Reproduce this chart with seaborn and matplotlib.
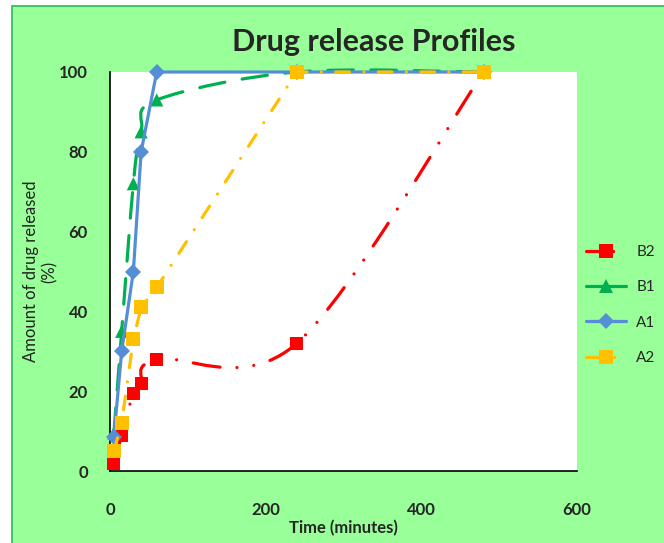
#%% imports
import numpy as np
import matplotlib
matplotlib.use("Agg")
import matplotlib.pyplot as plt
from matplotlib.path import Path
from matplotlib.patches import PathPatch, Rectangle
from matplotlib.lines import Line2D
import seaborn as sns

#%% data
time_min = [5, 15, 30, 40, 60, 240, 480]
b2 = [2, 9, 19.5, 22, 28, 32, 100]
b1 = [9.5, 35, 72, 85, 93, 100, 100]
a1 = [8.5, 30, 50, 80, 100, 100, 100]
a2 = [5, 12, 33, 41, 46, 100, 100]
series_names = ["B2", "B1", "A1", "A2"]
x_ticks = [0, 200, 400, 600]
y_ticks = [0, 20, 40, 60, 80, 100]

#%% style
sns.set_style("white")
plt.rcParams["font.family"] = ["Lato", "DejaVu Sans"]

bg = "#99FF99"
red, green, blue, yellow = "#FF0000", "#00B050", "#558ED5", "#FFC000"
lw = 2.3
red_dash = (0, (8.5, 5.3, 0.01, 5.3, 0.01, 5.3))
green_dash = (0, (8, 5.5))
yellow_dash = (0, (4.3, 4.5, 0.01, 4.5))


def smooth_path(xs, ys):
    # excel style smoothed line: bezier with catmull-rom like control points
    pts = np.column_stack([xs, ys]).astype(float)
    verts = [pts[0]]
    codes = [Path.MOVETO]
    n = len(pts)
    for i in range(n - 1):
        p0 = pts[max(i - 1, 0)]
        p1 = pts[i]
        p2 = pts[i + 1]
        p3 = pts[min(i + 2, n - 1)]
        c1 = p1 + (p2 - p0) / 6
        c2 = p2 - (p3 - p1) / 6
        verts += [c1, c2, p2]
        codes += [Path.CURVE4] * 3
    return Path(verts, codes)


fig = plt.figure(figsize=(6.64, 5.43), dpi=100, facecolor="white")
# green chart area, its border only shows on the left and top
fig.patches.append(Rectangle((12 / 664, -0.2), 1.2, 1 - 6 / 543 + 0.2,
                             transform=fig.transFigure, facecolor=bg,
                             edgecolor="#2EB85C", lw=1.2, zorder=-5))
ax = fig.add_axes([110 / 664, 1 - 471 / 543, 467 / 664, 399 / 543])
ax.set_facecolor("white")

#%% B2 (smoothed, dash dot dot)
ax.add_patch(PathPatch(smooth_path(time_min, b2), fill=False, edgecolor=red,
                       lw=lw, linestyle=red_dash, capstyle="round",
                       clip_on=False, zorder=3))
sns.scatterplot(x=time_min, y=b2, marker="s", s=90, color=red, edgecolor="none",
                ax=ax, clip_on=False, zorder=4)

#%% B1 (smoothed, long dash)
ax.add_patch(PathPatch(smooth_path(time_min, b1), fill=False, edgecolor=green,
                       lw=lw, linestyle=green_dash, capstyle="round",
                       clip_on=False, zorder=5))
sns.scatterplot(x=time_min, y=b1, marker="^", s=90, color=green, edgecolor="none",
                ax=ax, clip_on=False, zorder=6)

#%% A1 (straight, solid)
sns.lineplot(x=time_min, y=a1, color=blue, lw=lw, marker="D", markersize=8,
             markeredgewidth=0, ax=ax, clip_on=False, zorder=7)

#%% A2 (straight, dash dot)
sns.lineplot(x=time_min, y=a2, color=yellow, lw=lw, linestyle=yellow_dash,
             dash_capstyle="round", marker="s", markersize=9.5,
             markeredgewidth=0, ax=ax, clip_on=False, zorder=8)

#%% axes
ax.set_xlim(0, 600)
ax.set_ylim(0, 100)
ax.set_xticks(x_ticks)
ax.set_yticks(y_ticks)
for s in ["top", "right"]:
    ax.spines[s].set_visible(False)
for s in ["left", "bottom"]:
    ax.spines[s].set_color("black")
    ax.spines[s].set_linewidth(1.2)
ax.tick_params(axis="both", direction="out", length=5, width=1.2,
               color="black", labelsize=12)
ax.tick_params(axis="x", pad=17)
ax.tick_params(axis="y", pad=11)
for lab in ax.get_xticklabels() + ax.get_yticklabels():
    lab.set_fontweight("bold")

ax.set_xlabel("Time (minutes)", fontsize=12, fontweight="bold", labelpad=2)
ax.set_ylabel("Amount of drug released\n(%)", fontsize=12, labelpad=1,
              linespacing=1.2, color="#222222")
fig.text(374 / 664, 1 - 42 / 543, "Drug release Profiles", fontsize=22,
         fontweight="bold", ha="center", va="center")

#%% legend
handles = [
    Line2D([], [], color=red, lw=lw, linestyle=red_dash, dash_capstyle="round",
           marker="s", markersize=9.5, markeredgewidth=0),
    Line2D([], [], color=green, lw=lw, linestyle="-", marker="^",
           markersize=9.5, markeredgewidth=0),
    Line2D([], [], color=blue, lw=lw, marker="D", markersize=8,
           markeredgewidth=0),
    Line2D([], [], color=yellow, lw=lw, linestyle=yellow_dash,
           dash_capstyle="round", marker="s", markersize=9.5, markeredgewidth=0),
]
fig.legend(handles, series_names, loc="upper left",
           bbox_to_anchor=(586 / 664, 1 - 245 / 543), frameon=False,
           fontsize=11, handlelength=2.6, handletextpad=0.7,
           labelspacing=1.4, borderpad=0, borderaxespad=0)

fig.savefig("out.png", dpi=100, facecolor="white")
